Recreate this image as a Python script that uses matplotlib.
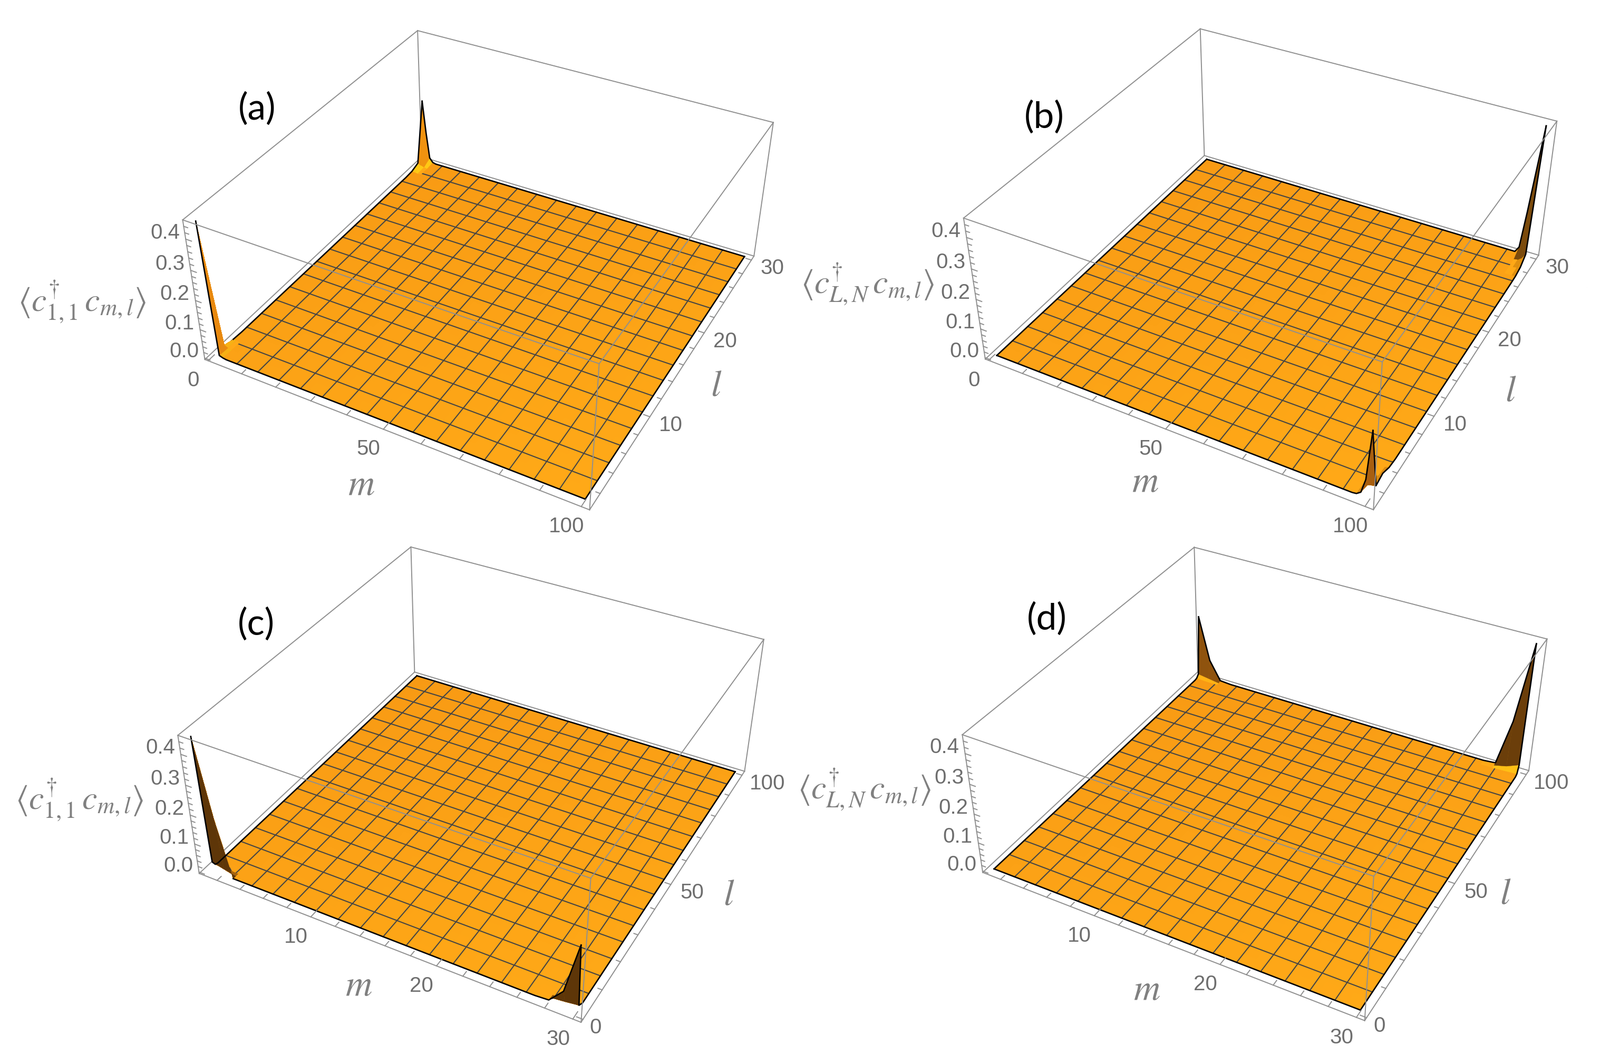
import numpy as np
import matplotlib
matplotlib.use("Agg")
import matplotlib.pyplot as plt
from matplotlib.colors import to_rgba

WIDTH, HEIGHT = 3035, 2019
plt.rcParams['mathtext.fontset'] = 'stix'

# axis ranges, ticks
sites_100 = 100
sites_30 = 30
range_100 = (-0.98, 101.98)
range_30 = (0.42, 30.58)
range_z = (-0.005, 0.46)

ticks_100 = [0, 10, 20, 30, 40, 50, 60, 70, 80, 90, 100]
major_100 = [0, 50, 100]
ticks_30 = [2, 4, 6, 8, 10, 12, 14, 16, 18, 20, 22, 24, 26, 28, 30]
major_30 = [10, 20, 30]
ticks_z = [0.0, 0.02, 0.04, 0.06, 0.08, 0.1, 0.12, 0.14, 0.16, 0.18, 0.2,
           0.22, 0.24, 0.26, 0.28, 0.3, 0.32, 0.34, 0.36, 0.38, 0.4, 0.42, 0.44]
major_z = [0.0, 0.1, 0.2, 0.3, 0.4]

# spikes: sites along m, sites along l, height rows (one row per l)
a1_m = [1, 2, 3]
a1_l = [1, 2, 3]
a1_z = [[0.45, 0.006, 0.002], [0.01, 0.004, 0.001], [0.002, 0.001, 0.0]]
a2_m = [1, 2, 3, 4]
a2_l = [28, 29, 30]
a2_z = [[0.002, 0.002, 0.0, 0.0], [0.012, 0.006, 0.002, 0.0], [0.225, 0.11, 0.017, 0.003]]

b1_m = [97, 98, 99, 100]
b1_l = [1, 2, 3, 4]
b1_z = [[0.002, 0.012, 0.06, 0.225], [0.0, 0.002, 0.006, 0.01], [0.0, 0.0, 0.004, 0.018], [0.0, 0.0, 0.0, 0.004]]
b2_m = [97, 98, 99, 100]
b2_l = [27, 28, 29, 30]
b2_z = [[0.0, 0.0, 0.0, 0.001], [0.0, 0.0, 0.002, 0.008], [0.0, 0.002, 0.012, 0.03], [0.02, 0.15, 0.3, 0.45]]

c1_m = [1, 2, 3]
c1_l = [1, 2, 3]
c1_z = [[0.45, 0.19, 0.0], [0.02, 0.01, 0.0], [0.003, 0.002, 0.0]]
c2_m = [27, 28, 29, 30]
c2_l = [1, 2, 3]
c2_z = [[0.0, 0.003, 0.052, 0.225], [0.0, 0.001, 0.006, 0.012], [0.0, 0.0, 0.002, 0.006]]

d1_m = [1, 2, 3]
d1_l = [98, 99, 100]
d1_z = [[0.002, 0.0, 0.0], [0.012, 0.006, 0.0], [0.225, 0.07, 0.003]]
d2_m = [27, 28, 29, 30]
d2_l = [98, 99, 100]
d2_z = [[0.0, 0.0, 0.002, 0.004], [0.0, 0.002, 0.012, 0.03], [0.0, 0.004, 0.169, 0.45]]

# where the plot box corners land in the picture, bottom then top, order
# (mlo,llo) (mhi,llo) (mhi,lhi) (mlo,lhi)
corners_a = [(388, 681), (1119, 968), (1430, 485), (800, 299), (347, 418), (1136, 690), (1467, 233), (792, 57)]
corners_b = [(1869, 681), (2604, 968), (2919, 483), (2285, 296), (1828, 414), (2623, 686), (2953, 231), (2276, 54)]
corners_c = [(378, 1657), (1103, 1940), (1412, 1464), (786, 1275), (337, 1396), (1120, 1666), (1449, 1213), (780, 1038)]
corners_d = [(1864, 1654), (2589, 1937), (2900, 1463), (2272, 1275), (1825, 1396), (2606, 1662), (2934, 1212), (2266, 1038)]

BOX = '#8f8f8f'
MESH = '#454545'
TICKTXT = '#6e6e6e'
LABELTXT = '#808080'
ORANGE_BACK = np.array(to_rgba('#F89A14'))
ORANGE_FRONT = np.array(to_rgba('#FFA917'))


def fit_camera(corners, xr, yr, zr):
    # projective camera through the 8 box corners
    unit = [(0, 0, 0), (1, 0, 0), (1, 1, 0), (0, 1, 0), (0, 0, 1), (1, 0, 1), (1, 1, 1), (0, 1, 1)]
    rows = []
    for (u, v), (x, y, z) in zip(corners, unit):
        p = [x, y, z, 1]
        u, v = u / 1000, v / 1000
        rows.append(p + [0, 0, 0, 0] + [-u * c for c in p])
        rows.append([0, 0, 0, 0] + p + [-v * c for c in p])
    P = np.linalg.svd(np.array(rows, float))[2][-1].reshape(3, 4)
    P = np.diag([1000, 1000, 1]) @ P
    scale = np.array([
        [1 / (xr[1] - xr[0]), 0, 0, -xr[0] / (xr[1] - xr[0])],
        [0, 1 / (yr[1] - yr[0]), 0, -yr[0] / (yr[1] - yr[0])],
        [0, 0, 1 / (zr[1] - zr[0]), -zr[0] / (zr[1] - zr[0])],
        [0, 0, 0, 1]])
    P = P @ scale
    centre = np.array([sum(xr) / 2, sum(yr) / 2, sum(zr) / 2, 1])
    P = P / (P[2] @ centre)
    # depth row: grows with distance from the viewer
    M = np.vstack([P[0], P[1], P[2] - [0, 0, 0, 1], P[2]])
    return M


def to_pixel(M, x, y, z):
    v = M @ np.array([x, y, z, 1.0])
    return v[0] / v[3], v[1] / v[3]


def draw_panel(corners, nm, nl, xr, yr, xticks, xmajor, yticks, ymajor, spikes,
               name, name_xy, ylabel, ylabel_xy, m_xy, l_xy, skip_m1=0, skip_l1=0):
    M = fit_camera(corners, xr, yr, range_z)
    ax = fig.add_axes([0, 0, 1, 1], projection='3d', computed_zorder=False)
    ax.set_proj_type('ortho')
    ax.get_proj = lambda: M
    ax.apply_aspect = lambda position=None: None
    ax.viewLim.intervalx = (0, WIDTH)
    ax.viewLim.intervaly = (HEIGHT, 0)
    ax.set_axis_off()
    ax.patch.set_visible(False)

    ms = np.arange(1, nm + 1)
    ls = np.arange(1, nl + 1)
    Z = np.zeros((nl, nm))
    for sm, sl, sz, _, _ in spikes:
        Z[np.ix_(np.array(sl) - 1, np.array(sm) - 1)] = sz

    # box edges behind the surface
    x0, x1 = xr
    y0, y1 = yr
    z0, z1 = range_z
    back = [((x0, y0, z0), (x0, y1, z0)), ((x0, y1, z0), (x1, y1, z0)),
            ((x0, y1, z0), (x0, y1, z1)), ((x0, y1, z1), (x0, y0, z1)),
            ((x0, y1, z1), (x1, y1, z1)), ((x0, y0, z0), (x0, y0, z1)),
            ((x1, y1, z0), (x1, y1, z1))]
    front = [((x0, y0, z1), (x1, y0, z1)), ((x1, y0, z1), (x1, y1, z1)),
             ((x1, y0, z1), (x1, y0, z0)), ((x0, y0, z0), (x1, y0, z0)),
             ((x1, y0, z0), (x1, y1, z0))]
    for a, b in back:
        ax.plot(*zip(a, b), color=BOX, lw=1.4, zorder=0.5)

    # surface, shade runs from far corner to near corner
    X, Y = np.meshgrid(ms, ls)
    t = ((X - 1) / (nm - 1) + 1 - (Y - 1) / (nl - 1)) / 2
    colors = ORANGE_BACK + (ORANGE_FRONT - ORANGE_BACK) * t[..., None]
    ax.plot_surface(X, Y, Z, rstride=1, cstride=1, facecolors=colors, shade=False,
                    linewidth=0, antialiased=False, zorder=1)

    # mesh, 15 lines each way
    for i in range(1, 16):
        mk = 1 + (nm - 1) * i / 16
        lk = 1 + (nl - 1) * i / 16
        z_m = [np.interp(mk, ms, Z[j, :]) for j in range(nl)]
        z_l = [np.interp(lk, ls, Z[:, j]) for j in range(nm)]
        ax.plot(np.full(nl, mk), ls, z_m, color=MESH, lw=1.5, zorder=2)
        ax.plot(ms, np.full(nm, lk), z_l, color=MESH, lw=1.5, zorder=2)

    # spikes go over the mesh
    for sm, sl, sz, col_top, col_glow in spikes:
        sz = np.array(sz)
        SX, SY = np.meshgrid(sm, sl)
        fc = np.zeros(sz.shape + (4,))
        for j in range(sz.shape[0] - 1):
            for i in range(sz.shape[1] - 1):
                cell = sz[j:j + 2, i:i + 2].max()
                if cell > 0.05:
                    fc[j, i] = to_rgba(col_top)
                elif cell > 0.004:
                    fc[j, i] = to_rgba(col_glow)
                else:
                    fc[j, i] = ORANGE_FRONT
        ax.plot_surface(SX, SY, sz, rstride=1, cstride=1, facecolors=fc, shade=False,
                        linewidth=0.3, antialiased=True, zorder=3)

    # boundary of the surface
    ax.plot(ms[skip_l1:], np.full(nm - skip_l1, 1), Z[0, skip_l1:], color='black', lw=1.9, zorder=4)
    ax.plot(ms, np.full(nm, nl), Z[-1, :], color='black', lw=1.9, zorder=4)
    ax.plot(np.full(nl - skip_m1, 1), ls[skip_m1:], Z[skip_m1:, 0], color='black', lw=1.9, zorder=4)
    ax.plot(np.full(nl, nm), ls, Z[:, -1], color='black', lw=1.9, zorder=4)

    for a, b in front:
        ax.plot(*zip(a, b), color=BOX, lw=1.4, zorder=5)

    # ticks point inward along the floor
    for v in xticks:
        d = 0.024 if v in xmajor else 0.016
        ax.plot([v, v], [y0, y0 + d * (y1 - y0)], [z0, z0], color=BOX, lw=1.4, zorder=5)
        if v in xmajor:
            px, py = to_pixel(M, v, y0, z0)
            ax.text2D(px - 28, py + 38, str(v), transform=ax.transData, color=TICKTXT,
                      fontsize=29, family='Liberation Sans', ha='center', va='center')
    for v in yticks:
        d = 0.015 if v in ymajor else 0.010
        ax.plot([x1, x1 - d * (x1 - x0)], [v, v], [z0, z0], color=BOX, lw=1.4, zorder=5)
        if v in ymajor:
            px, py = to_pixel(M, x1, v, z0)
            dx = {0: 24, 100: 48}.get(v, 40)
            ax.text2D(px + dx, py + 16, str(v), transform=ax.transData, color=TICKTXT,
                      fontsize=29, family='Liberation Sans', ha='center', va='center')
    for v in ticks_z:
        d = 0.016 if v in major_z else 0.011
        ax.plot([x0, x0 + d * (x1 - x0)], [y0, y0], [v, v], color=BOX, lw=1.4, zorder=5)
        if v in major_z:
            px, py = to_pixel(M, x0, y0, v)
            ax.text2D(px - 39, py - 12, f'{v:.1f}', transform=ax.transData, color=TICKTXT,
                      fontsize=29, family='Liberation Sans', ha='center', va='center')

    ax.text2D(name_xy[0], name_xy[1], name, transform=ax.transData, color='black',
              fontsize=50, family='Lato', ha='center', va='center')
    ax.text2D(ylabel_xy[0], ylabel_xy[1], ylabel, transform=ax.transData, color=LABELTXT,
              fontsize=46, ha='center', va='center')
    ax.text2D(m_xy[0], m_xy[1], r'$m$', transform=ax.transData, color=LABELTXT,
              fontsize=50, ha='center', va='center')
    ax.text2D(l_xy[0], l_xy[1], r'$l$', transform=ax.transData, color=LABELTXT,
              fontsize=50, ha='center', va='center')


fig = plt.figure(figsize=(WIDTH / 100, HEIGHT / 100), dpi=100)

label_11 = r'$\langle c^{\dagger}_{1,1}\,c_{m,l}\rangle$'
label_ln = r'$\langle c^{\dagger}_{L,N}\,c_{m,l}\rangle$'

draw_panel(corners_a, sites_100, sites_30, range_100, range_30, ticks_100, major_100, ticks_30, major_30,
           [(a1_m, a1_l, a1_z, '#E8890F', '#F7B015'), (a2_m, a2_l, a2_z, '#F0920F', '#FFC815')],
           '(a)', (488, 206), label_11, (155, 572), (685, 919), (1359, 732), skip_m1=2)
draw_panel(corners_b, sites_100, sites_30, range_100, range_30, ticks_100, major_100, ticks_30, major_30,
           [(b1_m, b1_l, b1_z, '#A85F10', '#D98A12'), (b2_m, b2_l, b2_z, '#7A4A0C', '#E0900F')],
           '(b)', (1981, 222), label_ln, (1645, 539), (2172, 914), (2866, 742))
draw_panel(corners_c, sites_30, sites_100, range_30, range_100, ticks_30, major_30, ticks_100, major_100,
           [(c1_m, c1_l, c1_z, '#5E3608', '#A8640E'), (c2_m, c2_l, c2_z, '#5E3608', '#8A520C')],
           '(c)', (486, 1184), label_11, (150, 1517), (680, 1870), (1383, 1698), skip_l1=2)
draw_panel(corners_d, sites_30, sites_100, range_30, range_100, ticks_30, major_30, ticks_100, major_100,
           [(d1_m, d1_l, d1_z, '#8F530E', '#FFB315'), (d2_m, d2_l, d2_z, '#6B3E0A', '#FFC015')],
           '(d)', (1986, 1174), label_ln, (1639, 1498), (2175, 1877), (2856, 1695))

fig.savefig('out.png', dpi=100)
